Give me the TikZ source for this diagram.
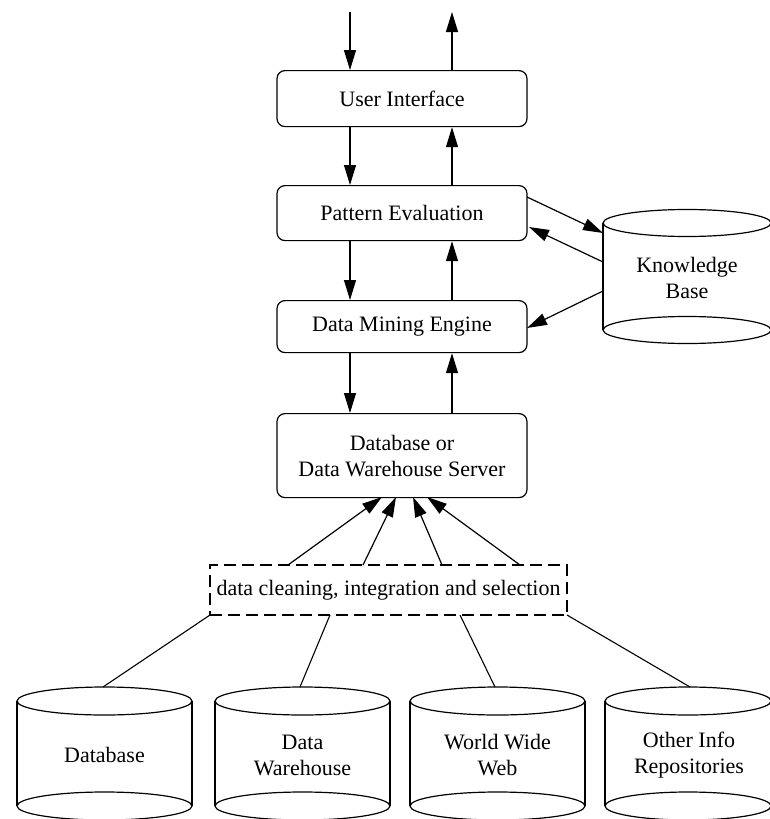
\documentclass[tikz,border=0pt]{standalone}
\usepackage{fontspec}
\setmainfont{Liberation Serif}
\usetikzlibrary{arrows.meta}
\begin{document}
\begin{tikzpicture}[x=1pt,y=-1pt,
  every node/.style={font=\fontsize{22}{26}\selectfont, align=center, inner sep=0pt},
  procbox/.style={draw, line width=1.2pt, rounded corners=8pt, minimum width=250pt, anchor=north},
  arr/.style={line width=1.2pt, -{Triangle[length=20pt,width=12pt]}},
  plain/.style={line width=1.1pt},
  cylline/.style={line width=1.2pt}
]
\useasboundingbox (0,0) rectangle (770,819);

% process boxes
\node[procbox, minimum height=56pt] (ui) at (402,70) {User Interface};
\node[procbox, minimum height=55pt] (pe) at (402,185) {Pattern Evaluation};
\node[procbox, minimum height=52pt] (dme) at (402,300) {Data Mining Engine};
\node[procbox, minimum height=84pt] (srv) at (402,413) {Database or\\Data Warehouse Server};
\node[draw, line width=1.5pt, dash pattern=on 12pt off 6pt, minimum width=357pt, minimum height=50pt] (clean) at (388.5,590) {data cleaning, integration and selection};

% top external arrows
\coordinate (inTop) at (350,12);
\coordinate (outTop) at (452,12);
\draw[arr] (inTop) -- (inTop |- ui.north);
\draw[arr] (outTop |- ui.north) -- (outTop);

% vertical arrows
\draw[arr] (inTop |- ui.south) -- (inTop |- pe.north);
\draw[arr] (outTop |- pe.north) -- (outTop |- ui.south);
\draw[arr] (inTop |- pe.south) -- (inTop |- dme.north);
\draw[arr] (outTop |- dme.north) -- (outTop |- pe.south);
\draw[arr] (inTop |- dme.south) -- (inTop |- srv.north);
\draw[arr] (outTop |- srv.north) -- (outTop |- dme.south);

% knowledge base cylinder
\def\cyl#1#2#3#4#5#6{% name, cx, topcy, botcy, rx, ry
  \draw[cylline] (#2-#5,#3) -- (#2-#5,#4) (#2+#5,#3) -- (#2+#5,#4);
  \draw[cylline] (#2,#3) ellipse [x radius=#5, y radius=#6];
  \draw[cylline] (#2,#4) ellipse [x radius=#5, y radius=#6];
  \coordinate (#1top) at (#2,#3-#6);
  \coordinate (#1left) at (#2-#5,#3);
}
\cyl{kb}{687}{223}{330}{84}{13.5}
\node (kbt) at (687,278) {Knowledge\\Base};
\coordinate (kbA) at (603,233);
\coordinate (kbB) at (603,262);
\coordinate (kbC) at (603,291);
\coordinate (peA) at (527,197);
\coordinate (peB) at (529,227);
\coordinate (dmeA) at (527,328);
\draw[arr] (peA) -- (kbA);
\draw[arr] (kbB) -- (peB);
\draw[arr] (kbC) -- (dmeA);

% source cylinders
\cyl{db}{104.5}{701}{806}{87.5}{14}
\cyl{dw}{302.5}{701}{806}{87.5}{14}
\cyl{ww}{497.5}{701}{806}{87.5}{14}
\cyl{ot}{688}{701}{806}{83}{14}
\node (dbt) at (104.5,755) {Database};
\node (dwt) at (302.5,755) {Data\\Warehouse};
\node (wwt) at (497.5,755) {World Wide\\Web};
\node (ott) at (689,755) {Other Info\\Repositories};

% lines from sources to cleaning box
\coordinate (c1) at (210,615);
\coordinate (c2) at (330,615);
\coordinate (c3) at (460,615);
\coordinate (c4) at (567,615);
\coordinate (d1) at (103,687);
\coordinate (d2) at (300,687);
\coordinate (d3) at (495,687);
\coordinate (d4) at (690,687);
\draw[plain] (c1) -- (d1);
\draw[plain] (c2) -- (d2);
\draw[plain] (c3) -- (d3);
\draw[plain] (c4) -- (d4);

% arrows from cleaning box to server
\coordinate (u1) at (288,565);
\coordinate (u2) at (363,565);
\coordinate (u3) at (442,565);
\coordinate (u4) at (520,565);
\coordinate (s1) at (382,497);
\coordinate (s2) at (396,497);
\coordinate (s3) at (413,497);
\coordinate (s4) at (427,497);
\draw[arr] (u1) -- (s1);
\draw[arr] (u2) -- (s2);
\draw[arr] (u3) -- (s3);
\draw[arr] (u4) -- (s4);
\end{tikzpicture}
\end{document}
